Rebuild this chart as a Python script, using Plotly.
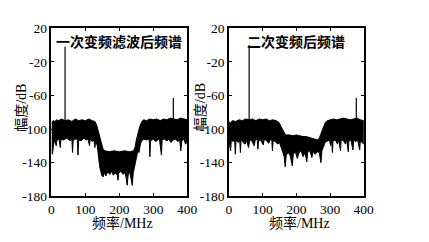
import plotly.graph_objects as go

# ---------------- data ----------------
# Left panel: 一次变频滤波后频谱  (upper / lower envelope of the noise floor, dB vs MHz)
left_upper_f = [0, 5, 10, 15, 20, 30, 40, 50, 60, 70, 80, 90, 100, 110, 120, 128, 133, 138, 143, 148, 152,
                158, 170, 185, 200, 215, 230, 242, 246, 250, 255, 260, 266, 272, 280, 290, 300, 310, 320,
                330, 340, 350, 360, 370, 380, 390, 400]
left_upper_db = [-92, -90, -91, -89, -90, -88, -90, -89, -91, -88, -90, -89, -90, -88, -90, -91, -95, -102,
                 -110, -118, -124, -126, -127, -126, -127, -126, -127, -126, -122, -113, -104, -97, -91, -89,
                 -90, -88, -89, -88, -90, -88, -89, -87, -88, -89, -87, -88, -89]
left_lower_f = [0, 3, 6, 10, 14, 16, 22, 26, 28, 35, 45, 55, 60, 62, 64, 70, 76, 78, 80, 88, 95, 102, 108,
                112, 114, 120, 125, 128, 130, 135, 138, 142, 148, 152, 156, 160, 166, 172, 178, 182, 188, 194,
                196, 198, 205, 210, 216, 220, 223, 226, 230, 234, 238, 241, 245, 250, 255, 258, 262, 266, 272,
                280, 288, 290, 292, 300, 308, 312, 318, 324, 326, 332, 340, 346, 352, 358, 366, 372, 378, 381,
                384, 390, 395, 400]
left_lower_db = [-128, -130, -118, -114, -120, -113, -112, -122, -112, -113, -111, -114, -112, -128, -113,
                 -112, -112, -131, -113, -114, -111, -113, -112, -120, -112, -115, -113, -122, -114, -120, -130,
                 -145, -155, -157, -152, -156, -151, -154, -150, -155, -152, -155, -161, -153, -150, -154, -152,
                 -158, -167, -155, -150, -156, -167, -152, -145, -135, -125, -128, -118, -114, -112, -113, -112,
                 -133, -114, -112, -115, -113, -112, -131, -113, -112, -114, -112, -116, -113, -112, -115, -113,
                 -126, -114, -112, -118, -115]
left_tone_f = [40, 359]
left_tone_db = [-2, -63]

# Right panel: 二次变频后频谱
right_upper_f = [0, 5, 10, 20, 30, 40, 50, 60, 70, 80, 90, 100, 110, 120, 130, 140, 148, 155, 162, 168, 180,
                 190, 200, 210, 220, 230, 240, 250, 262, 268, 274, 280, 286, 292, 300, 310, 320, 330, 340, 350,
                 360, 370, 380, 390, 400]
right_upper_db = [-91, -93, -90, -91, -89, -90, -88, -89, -88, -90, -88, -89, -88, -90, -89, -90, -92, -97,
                  -103, -107, -107, -108, -107, -108, -109, -109, -110, -111, -113, -111, -104, -97, -92, -90,
                  -89, -88, -89, -88, -87, -88, -89, -88, -87, -89, -90]
right_lower_f = [0, 3, 5, 7, 12, 17, 19, 21, 28, 32, 34, 36, 42, 48, 52, 58, 62, 68, 75, 78, 84, 86, 88, 95,
                 102, 104, 110, 118, 122, 127, 129, 131, 138, 145, 150, 155, 160, 164, 167, 170, 176, 182, 188,
                 191, 197, 203, 208, 214, 220, 226, 231, 234, 240, 246, 250, 256, 262, 268, 273, 276, 280, 285,
                 292, 298, 302, 305, 307, 309, 316, 322, 326, 331, 333, 340, 346, 350, 354, 356, 362, 368, 370,
                 376, 382, 388, 390, 396, 400]
right_lower_db = [-112, -122, -126, -113, -115, -112, -130, -113, -116, -113, -128, -112, -116, -118, -113,
                  -122, -113, -114, -120, -113, -112, -124, -113, -114, -119, -113, -113, -117, -113, -112, -126,
                  -114, -115, -118, -116, -122, -128, -133, -145, -131, -128, -132, -144, -130, -127, -135, -128,
                  -126, -133, -128, -139, -127, -126, -134, -127, -130, -127, -128, -140, -126, -122, -116, -114,
                  -113, -120, -113, -128, -114, -113, -118, -113, -126, -113, -114, -118, -113, -127, -114, -113,
                  -125, -113, -115, -113, -125, -114, -116, -118]
right_tone_f = [60, 378]
right_tone_db = [0, -63]

titles = ["一次变频滤波后频谱", "二次变频后频谱"]
x_ticks = [0, 100, 200, 300, 400]
x_tick_labels = ["0", "100", "200", "300", "400"]
y_ticks = [-180, -140, -100, -60, -20, 20]
y_tick_labels = ["-180", "-140", "-100", "-60", "-20", "20"]
x_title = "频率/MHz"
y_title = "幅度/dB"

# ---------------- figure ----------------
W, H = 429, 242
fig = go.Figure()

panels = [
    (left_upper_f, left_upper_db, left_lower_f, left_lower_db, left_tone_f, left_tone_db, "x", "y"),
    (right_upper_f, right_upper_db, right_lower_f, right_lower_db, right_tone_f, right_tone_db, "x2", "y2"),
]
TONE_BASE = -100
for uf, ud, lf, ld, tf, td, xa, ya in panels:
    fig.add_trace(go.Scatter(
        x=list(uf) + list(lf)[::-1], y=list(ud) + list(ld)[::-1],
        mode="lines", fill="toself", fillcolor="black",
        line=dict(color="black", width=1), xaxis=xa, yaxis=ya, hoverinfo="skip"))
    sx, sy = [], []
    for f, d in zip(tf, td):
        sx += [f, f, None]
        sy += [TONE_BASE, d, None]
    fig.add_trace(go.Scatter(x=sx, y=sy, mode="lines", line=dict(color="black", width=1.2),
                             xaxis=xa, yaxis=ya, hoverinfo="skip"))

px_x = lambda p: p / W
px_y = lambda p: 1 - p / H
dom_left = [px_x(50), px_x(190)]
dom_right = [px_x(233), px_x(372)]
dom_y = [px_y(201.7), px_y(22.7)]

serif = "Liberation Serif, Times New Roman, serif"
tick_font = dict(family=serif, size=13.5, color="black")
axis_common = dict(showline=True, linecolor="black", linewidth=1.5, mirror="ticks",
                   ticks="inside", ticklen=3, tickwidth=1, tickcolor="black",
                   showgrid=False, zeroline=False, tickfont=tick_font, fixedrange=True)

fig.update_layout(
    width=W, height=H, margin=dict(l=0, r=0, t=0, b=0),
    paper_bgcolor="white", plot_bgcolor="white", showlegend=False,
    xaxis=dict(domain=dom_left, range=[0, 400], tickvals=x_ticks, ticktext=x_tick_labels, anchor="y",
               **axis_common),
    yaxis=dict(domain=dom_y, range=[-180, 20], tickvals=y_ticks, ticktext=y_tick_labels, anchor="x",
               **axis_common),
    xaxis2=dict(domain=dom_right, range=[0, 400], tickvals=x_ticks, ticktext=x_tick_labels, anchor="y2",
                **axis_common),
    yaxis2=dict(domain=dom_y, range=[-180, 20], tickvals=y_ticks, ticktext=y_tick_labels, anchor="x2",
                **axis_common),
)

mixed = "Liberation Serif, Noto Sans CJK SC"
ann = []
for i, (dom, ylab_x) in enumerate([(dom_left, 19), (dom_right, 204)]):
    cx = (dom[0] + dom[1]) / 2
    ann.append(dict(text="<b>" + titles[i] + "</b>", x=cx, y=px_y(36), xref="paper", yref="paper",
                    showarrow=False, font=dict(family="Noto Sans CJK SC", size=14, color="black"),
                    xanchor="center", yanchor="middle"))
    ann.append(dict(text=x_title, x=cx + 3 / W, y=px_y(230), xref="paper", yref="paper",
                    showarrow=False, font=dict(family=mixed, size=14, color="black"),
                    xanchor="center", yanchor="middle"))
    ann.append(dict(text=y_title, x=px_x(ylab_x), y=px_y(107), xref="paper", yref="paper",
                    showarrow=False, textangle=-90,
                    font=dict(family=mixed, size=14, color="black"),
                    xanchor="center", yanchor="middle"))
fig.update_layout(annotations=ann)

fig.write_html("out.html")
